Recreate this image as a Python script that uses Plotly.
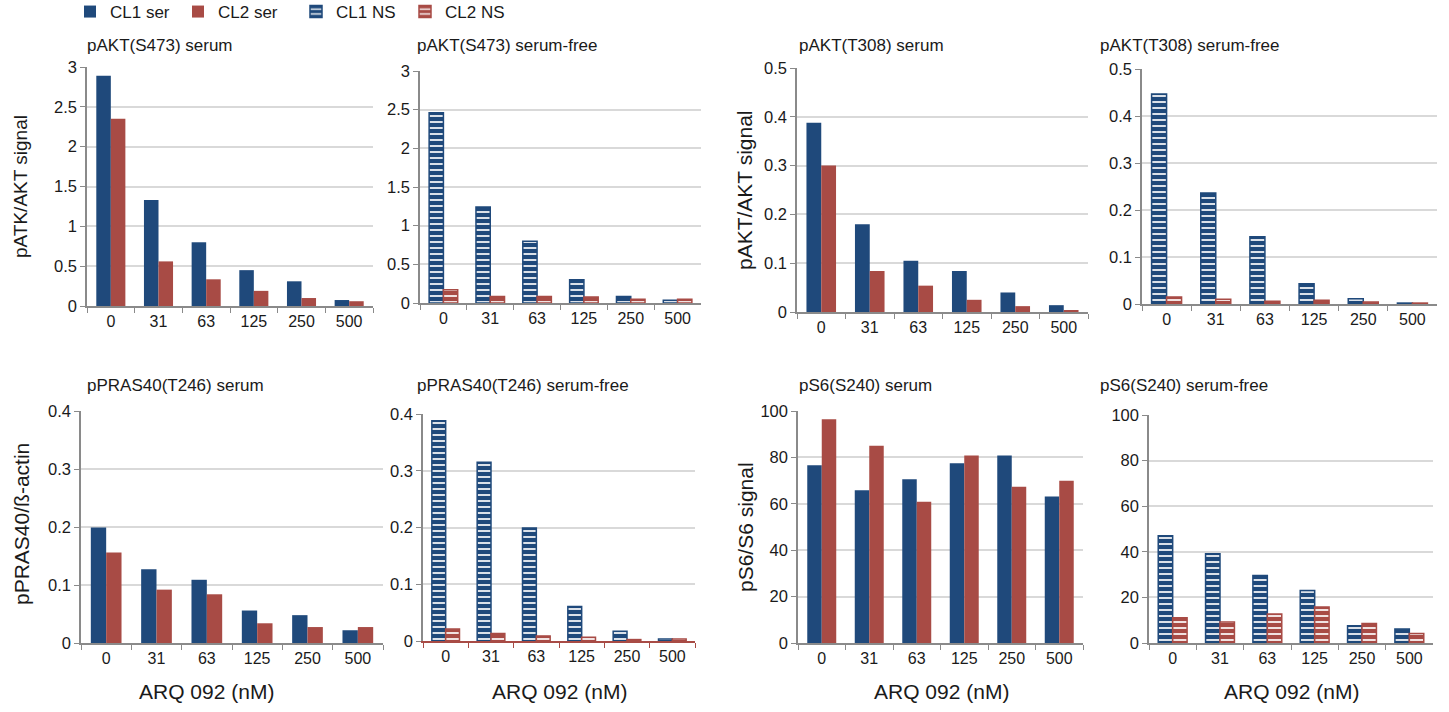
import plotly.graph_objects as go

# ---------------- data ----------------
categories = ["0", "31", "63", "125", "250", "500"]

s473_ser_cl1 = [2.89, 1.33, 0.80, 0.45, 0.31, 0.075]
s473_ser_cl2 = [2.35, 0.56, 0.335, 0.19, 0.10, 0.06]
s473_ns_cl1 = [2.46, 1.24, 0.80, 0.30, 0.085, 0.034]
s473_ns_cl2 = [0.17, 0.085, 0.085, 0.077, 0.047, 0.047]

t308_ser_cl1 = [0.388, 0.18, 0.105, 0.084, 0.040, 0.014]
t308_ser_cl2 = [0.30, 0.084, 0.054, 0.025, 0.012, 0.0035]
t308_ns_cl1 = [0.447, 0.236, 0.143, 0.043, 0.011, 0.002]
t308_ns_cl2 = [0.015, 0.010, 0.006, 0.008, 0.004, 0.002]

pras_ser_cl1 = [0.199, 0.127, 0.109, 0.056, 0.048, 0.022]
pras_ser_cl2 = [0.156, 0.092, 0.084, 0.034, 0.0275, 0.0275]
pras_ns_cl1 = [0.388, 0.315, 0.199, 0.061, 0.017, 0.0035]
pras_ns_cl2 = [0.021, 0.013, 0.009, 0.0065, 0.0025, 0.0035]

s6_ser_cl1 = [76.6, 65.8, 70.6, 77.5, 80.8, 63.2]
s6_ser_cl2 = [96.4, 85.0, 60.9, 80.8, 67.3, 69.9]
s6_ns_cl1 = [47.0, 39.1, 29.6, 23.0, 7.6, 6.1]
s6_ns_cl2 = [11.1, 9.2, 12.7, 15.8, 8.5, 4.2]

panel_titles = ["pAKT(S473) serum", "pAKT(S473) serum-free",
                "pAKT(T308) serum", "pAKT(T308) serum-free",
                "pPRAS40(T246) serum", "pPRAS40(T246) serum-free",
                "pS6(S240) serum", "pS6(S240) serum-free"]
legend_names = ["CL1 ser", "CL2 ser", "CL1 NS", "CL2 NS"]
x_title = "ARQ 092 (nM)"

# ---------------- style ----------------
W, H = 1449, 712
BLUE = "#1F497B"
RED = "#A84B45"
AXIS = "#8a8a8a"
GRID = "#d9d9d9"
TXT = "#1a1a1a"
FONT = "Liberation Sans, Arial, sans-serif"
LEGEND_W = {"CL1 ser": 63, "CL2 ser": 73, "CL1 NS": 64, "CL2 NS": 64}


def fx(px):
    return px / W


def fy(py):
    return 1 - py / H


# (x0, x1, y_top_px, y_zero_px, ymax, dtick, serum?, title_x, series...)
panels = [
    (87, 373, 67, 306, 3, 0.5, True, 85, s473_ser_cl1, s473_ser_cl2),
    (420, 701, 71, 303, 3, 0.5, False, 415, s473_ns_cl1, s473_ns_cl2),
    (797, 1088, 68, 312, 0.5, 0.1, True, 797, t308_ser_cl1, t308_ser_cl2),
    (1142, 1437, 69, 304, 0.5, 0.1, False, 1098, t308_ns_cl1, t308_ns_cl2),
    (81, 383, 411, 643, 0.4, 0.1, True, 85, pras_ser_cl1, pras_ser_cl2),
    (423, 695, 414, 641, 0.4, 0.1, False, 415, pras_ns_cl1, pras_ns_cl2),
    (798, 1083, 411, 643, 100, 20, True, 797, s6_ser_cl1, s6_ser_cl2),
    (1149, 1433, 415, 643, 100, 20, False, 1098, s6_ns_cl1, s6_ns_cl2),
]

fig = go.Figure()
annotations = []

for i, (x0, x1, yt, yz, ymax, dt, serum, tx, v1, v2) in enumerate(panels):
    n = i + 1
    xa = "x" if n == 1 else f"x{n}"
    ya = "y" if n == 1 else f"y{n}"
    show = (i == 0) or (i == 1)
    for j, (vals, col) in enumerate([(v1, BLUE), (v2, RED)]):
        name = legend_names[j] if serum else legend_names[j + 2]
        if serum:
            marker = dict(color=col, line=dict(width=0))
        else:
            marker = dict(color=col, line=dict(width=1.5, color=col),
                          pattern=dict(shape="-", fgcolor="white", bgcolor=col,
                                       size=6, solidity=0.28,
                                       fillmode="replace"))
        fig.add_trace(go.Bar(x=categories, y=vals, name=name, marker=marker,
                             xaxis=xa, yaxis=ya, showlegend=show,
                             legendgroup=name, legendwidth=LEGEND_W[name]))
    xline = RED if n == 6 else AXIS
    fig.layout[f"xaxis{n}" if n > 1 else "xaxis"] = dict(
        domain=[fx(x0), fx(x1)], anchor=ya, type="category",
        showline=True, linecolor=xline, linewidth=1.5,
        ticks="outside", tickson="boundaries", ticklen=5, tickcolor=xline,
        showgrid=False, zeroline=False,
        tickfont=dict(size=16, color=TXT, family=FONT),
    )
    fig.layout[f"yaxis{n}" if n > 1 else "yaxis"] = dict(
        domain=[fy(yz), fy(yt)], anchor=xa, range=[0, ymax], dtick=dt,
        showline=True, linecolor=AXIS, linewidth=1.5,
        ticks="outside", ticklen=5, tickcolor=AXIS,
        showgrid=True, gridcolor=GRID, gridwidth=1.5, zeroline=False,
        tickfont=dict(size=16.5, color=TXT, family=FONT),
    )
    ty = 46 if i < 4 else 385
    annotations.append(dict(text=panel_titles[i], x=fx(tx), y=fy(ty),
                            xref="paper", yref="paper", xanchor="left",
                            yanchor="middle", showarrow=False,
                            font=dict(size=17, color=TXT, family=FONT)))

# y-axis titles
for txt, px, py, sz in [("pATK/AKT signal", 21, 187, 19),
                        ("pPRAS40/ß-actin", 21, 524, 21),
                        ("pAKT/AKT signal", 745, 190, 21),
                        ("pS6/S6 signal", 745, 527, 21)]:
    annotations.append(dict(text=txt, x=fx(px), y=fy(py), xref="paper",
                            yref="paper", xanchor="center", yanchor="middle",
                            textangle=-90, showarrow=False,
                            font=dict(size=sz, color=TXT, family=FONT)))

# x-axis titles
for px in [206, 559, 941, 1291]:
    annotations.append(dict(text=x_title, x=fx(px), y=fy(691), xref="paper",
                            yref="paper", xanchor="center", yanchor="middle",
                            showarrow=False,
                            font=dict(size=21, color=TXT, family=FONT)))

fig.update_layout(
    width=W, height=H,
    margin=dict(l=0, r=0, t=0, b=0, autoexpand=False),
    paper_bgcolor="white", plot_bgcolor="white",
    barmode="group", bargap=0.39, bargroupgap=0,
    font=dict(family=FONT, color=TXT, size=16),
    annotations=annotations,
    legend=dict(orientation="h", x=fx(70), y=1 + 6 / H, xanchor="left",
                yanchor="top", font=dict(size=17, color=TXT, family=FONT),
                itemwidth=30, bgcolor="rgba(0,0,0,0)", tracegroupgap=0),
)

fig.write_html("out.html")
